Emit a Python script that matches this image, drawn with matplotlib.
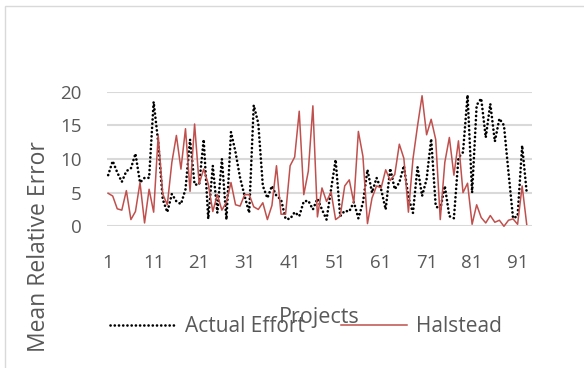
import matplotlib
matplotlib.use("Agg")
import matplotlib.pyplot as plt
from matplotlib.patches import Rectangle

plt.rcParams['font.family'] = ['Open Sans', 'DejaVu Sans']

projects = list(range(1, 94))

# mean relative error per project
actual_effort = [
    7.6, 9.7, 8.0, 6.6, 8.2, 8.6, 10.8, 6.5, 7.2, 7.2,
    18.5, 12.5, 4.0, 2.1, 4.8, 3.7, 3.3, 5.5, 12.9, 6.2,
    6.2, 12.9, 1.1, 9.0, 2.0, 10.0, 1.0, 14.0, 11.0, 7.2,
    4.5, 2.0, 18.0, 15.3, 6.0, 4.2, 6.0, 4.5, 4.0, 1.1,
    1.1, 2.1, 1.5, 3.7, 3.8, 2.5, 4.1, 2.5, 1.0, 5.5,
    9.9, 1.5, 2.3, 2.2, 3.6, 1.2, 3.5, 8.4, 5.0, 7.2,
    5.5, 2.5, 8.6, 5.5, 6.5, 9.0, 4.3, 2.0, 8.8, 4.5,
    7.0, 13.0, 3.0, 2.5, 6.0, 1.5, 1.2, 10.2, 11.0, 19.5,
    5.0, 18.0, 19.0, 13.2, 18.2, 12.6, 16.0, 15.0, 8.0, 1.2,
    1.5, 12.0, 5.0,
]
halstead = [
    4.9, 4.5, 2.6, 2.4, 5.3, 1.0, 2.2, 6.5, 0.5, 5.5,
    2.1, 13.5, 4.8, 3.2, 9.5, 13.5, 8.5, 14.5, 5.2, 15.2,
    6.3, 8.5, 6.3, 2.2, 4.7, 2.4, 3.6, 6.5, 3.2, 3.0,
    4.7, 4.7, 2.9, 2.5, 3.5, 1.0, 3.1, 9.0, 1.8, 1.8,
    9.0, 10.3, 17.1, 4.7, 8.2, 17.9, 1.4, 5.7, 3.7, 5.1,
    1.0, 1.5, 6.0, 6.9, 3.5, 14.1, 10.4, 0.4, 4.2, 6.0,
    5.7, 8.4, 6.8, 7.7, 12.2, 10.1, 2.1, 10.0, 14.9, 19.4,
    13.6, 15.9, 12.9, 1.0, 9.5, 13.2, 7.6, 12.7, 5.0, 6.4,
    0.3, 3.2, 1.3, 0.5, 1.6, 0.6, 0.9, 0.0, 0.9, 1.1,
    0.3, 6.0, 0.3,
]
x_ticks = [1, 11, 21, 31, 41, 51, 61, 71, 81, 91]
y_ticks = [0, 5, 10, 15, 20]

W, H = 584, 368
txt = '#595959'
fs = 13.5

fig = plt.figure(figsize=(W / 100, H / 100), dpi=100)
fig.patch.set_facecolor('white')

# thin chart border
fig.patches.append(Rectangle((4.5 / W, -0.1), 1.2, 1 - 6 / H + 0.1,
                             transform=fig.transFigure, fill=False,
                             edgecolor='#d9d9d9', lw=1.0))

left, right = 106.7, 531.7
bottom, top = 226.3, 91.7
ax = fig.add_axes([left / W, 1 - bottom / H, (right - left) / W, (bottom - top) / H])

# round dots for the actual effort series
ax.plot(projects, actual_effort, color='black', lw=1.9,
        linestyle=(0, (0.05, 1.55)), dash_capstyle='round',
        label='Actual Effort', clip_on=False, zorder=3)
ax.plot(projects, halstead, color='#c0504d', lw=1.1,
        label='Halstead', clip_on=False, zorder=4)

ax.set_xlim(0.68, 94.1)
ax.set_ylim(0, 20)
ax.set_xticks(x_ticks)
ax.set_yticks(y_ticks)
ax.tick_params(length=0, labelsize=fs, colors=txt)
ax.tick_params(axis='x', pad=20)
ax.tick_params(axis='y', pad=18)
ax.grid(axis='y', color='#d9d9d9', lw=1.5)
ax.set_axisbelow(True)
for s in ax.spines.values():
    s.set_visible(False)

ax.set_xlabel('Projects', fontsize=15.5, color=txt)
ax.xaxis.set_label_coords(0.5, (bottom - 317) / (bottom - top))
ax.xaxis.label.set_va('center')
ax.set_ylabel('Mean Relative Error', fontsize=16.5, color=txt)
ax.yaxis.set_label_coords((39 - left) / (right - left), (bottom - 247) / (bottom - top))
ax.yaxis.label.set_va('center')

leg = ax.legend(loc='center', bbox_to_anchor=(306 / W, 1 - 327 / H),
                bbox_transform=fig.transFigure, ncol=2, frameon=False,
                fontsize=15, handlelength=3.2, handletextpad=0.43,
                columnspacing=1.7)
for t in leg.get_texts():
    t.set_color(txt)

fig.savefig('out.png', dpi=100)
